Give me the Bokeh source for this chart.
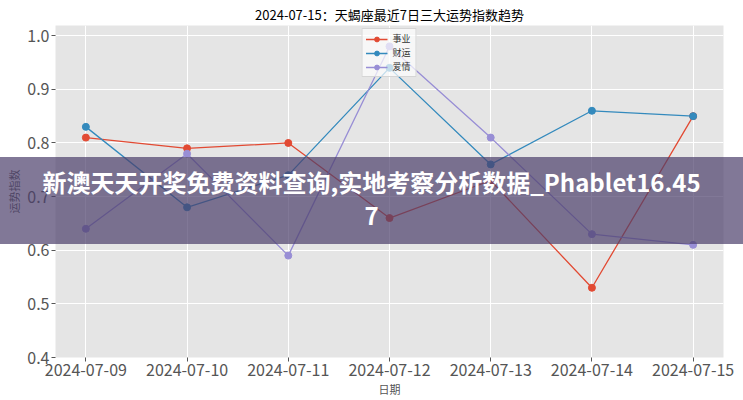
from bokeh.plotting import figure
from bokeh.models import (ColumnDataSource, Legend, LegendItem, Div,
                          FixedTicker, Range1d)
from bokeh.layouts import column
from bokeh.embed import file_html
from bokeh.resources import INLINE

dates = ["2024-07-09", "2024-07-10", "2024-07-11", "2024-07-12",
         "2024-07-13", "2024-07-14", "2024-07-15"]
career = [0.81, 0.79, 0.80, 0.66, 0.73, 0.53, 0.85]
wealth = [0.83, 0.68, 0.74, 0.94, 0.76, 0.86, 0.85]
love = [0.64, 0.78, 0.59, 0.98, 0.81, 0.63, 0.61]
series_names = ["事业", "财运", "爱情"]
y_ticks = [0.4, 0.5, 0.6, 0.7, 0.8, 0.9, 1.0]
y_tick_labels = ["0.4", "0.5", "0.6", "0.7", "0.8", "0.9", "1.0"]
title_text = "2024-07-15：天蝎座最近7日三大运势指数趋势"
banner_line1 = "新澳天天开奖免费资料查询,实地考察分析数据_Phablet16.45"
banner_line2 = "7"

FONT = "Noto Sans CJK SC"
colors = ["#E24A33", "#348ABD", "#988ED5"]

xs = list(range(len(dates)))
src = ColumnDataSource(dict(x=xs, career=career, wealth=wealth, love=love))

p = figure(width=743, height=400, output_backend="svg", toolbar_location=None,
           x_range=Range1d(-0.3, 6.3), y_range=Range1d(0.4, 1.019),
           min_border_left=55, min_border_right=20, min_border_top=25,
           min_border_bottom=43)
p.background_fill_color = "#E5E5E5"
p.border_fill_color = "white"
p.outline_line_color = None

p.title.text = title_text
p.title.align = "center"
p.title.text_font = FONT
p.title.text_font_size = "13px"
p.title.text_font_style = "normal"
p.title.text_color = "black"
p.title.offset = 0
p.title.standoff = 4

p.xgrid.grid_line_color = "white"
p.ygrid.grid_line_color = "white"
p.xgrid.grid_line_width = 1
p.ygrid.grid_line_width = 1

p.xaxis.ticker = FixedTicker(ticks=xs)
p.xaxis.major_label_overrides = {i: d for i, d in enumerate(dates)}
p.yaxis.ticker = FixedTicker(ticks=y_ticks)
p.yaxis.major_label_overrides = {t: l for t, l in zip(y_ticks, y_tick_labels)}
for ax in (p.xaxis[0], p.yaxis[0]):
    ax.axis_line_color = None
    ax.major_tick_line_color = "#555555"
    ax.major_tick_out = 4
    ax.major_tick_in = 0
    ax.minor_tick_line_color = None
    ax.major_label_text_font = FONT
    ax.major_label_text_font_size = "16px"
    ax.major_label_text_color = "#555555"
    ax.axis_label_text_font = FONT
    ax.axis_label_text_font_size = "11px"
    ax.axis_label_text_font_style = "normal"
    ax.axis_label_text_color = "#555555"
    ax.major_label_standoff = 2
    ax.axis_label_standoff = 2
p.xaxis.axis_label = "日期"
p.yaxis.axis_label = "运势指数"

items = []
for name, key, c in zip(series_names, ["career", "wealth", "love"], colors):
    l = p.line("x", key, source=src, line_color=c, line_width=1.3)
    s = p.scatter("x", key, source=src, size=7, fill_color=c, line_color=c)
    items.append(LegendItem(label=name, renderers=[l, s]))

legend = Legend(items=items, location="top_center")
legend.label_text_font = FONT
legend.label_text_font_size = "9px"
legend.label_text_color = "#333333"
legend.glyph_width = 22
legend.glyph_height = 12
legend.label_height = 12
legend.spacing = 1
legend.padding = 3
legend.margin = 3
legend.background_fill_color = "white"
legend.background_fill_alpha = 0.7
legend.border_line_color = "#CCCCCC"
legend.border_line_alpha = 0.8
p.add_layout(legend)

# semi-transparent banner overlaid across the whole page
banner_html = (
    f'<div style="width:743px;height:87px;box-sizing:border-box;padding-top:8px;'
    f'text-align:center;line-height:33px;font-family:\'{FONT}\';font-weight:bold;'
    f'font-size:24px;color:white;white-space:nowrap;">'
    f'{banner_line1}<br>{banner_line2}</div>'
)
banner = Div(text=banner_html, width=743, height=87,
             styles={"position": "absolute", "left": "0px", "top": "157px",
                     "width": "743px", "height": "87px",
                     "background-color": "rgba(75,63,107,0.7)",
                     "z-index": "10", "margin": "0px", "padding": "0px"})

layout = column(p, banner)
open("out.html", "w").write(file_html(layout, INLINE))
